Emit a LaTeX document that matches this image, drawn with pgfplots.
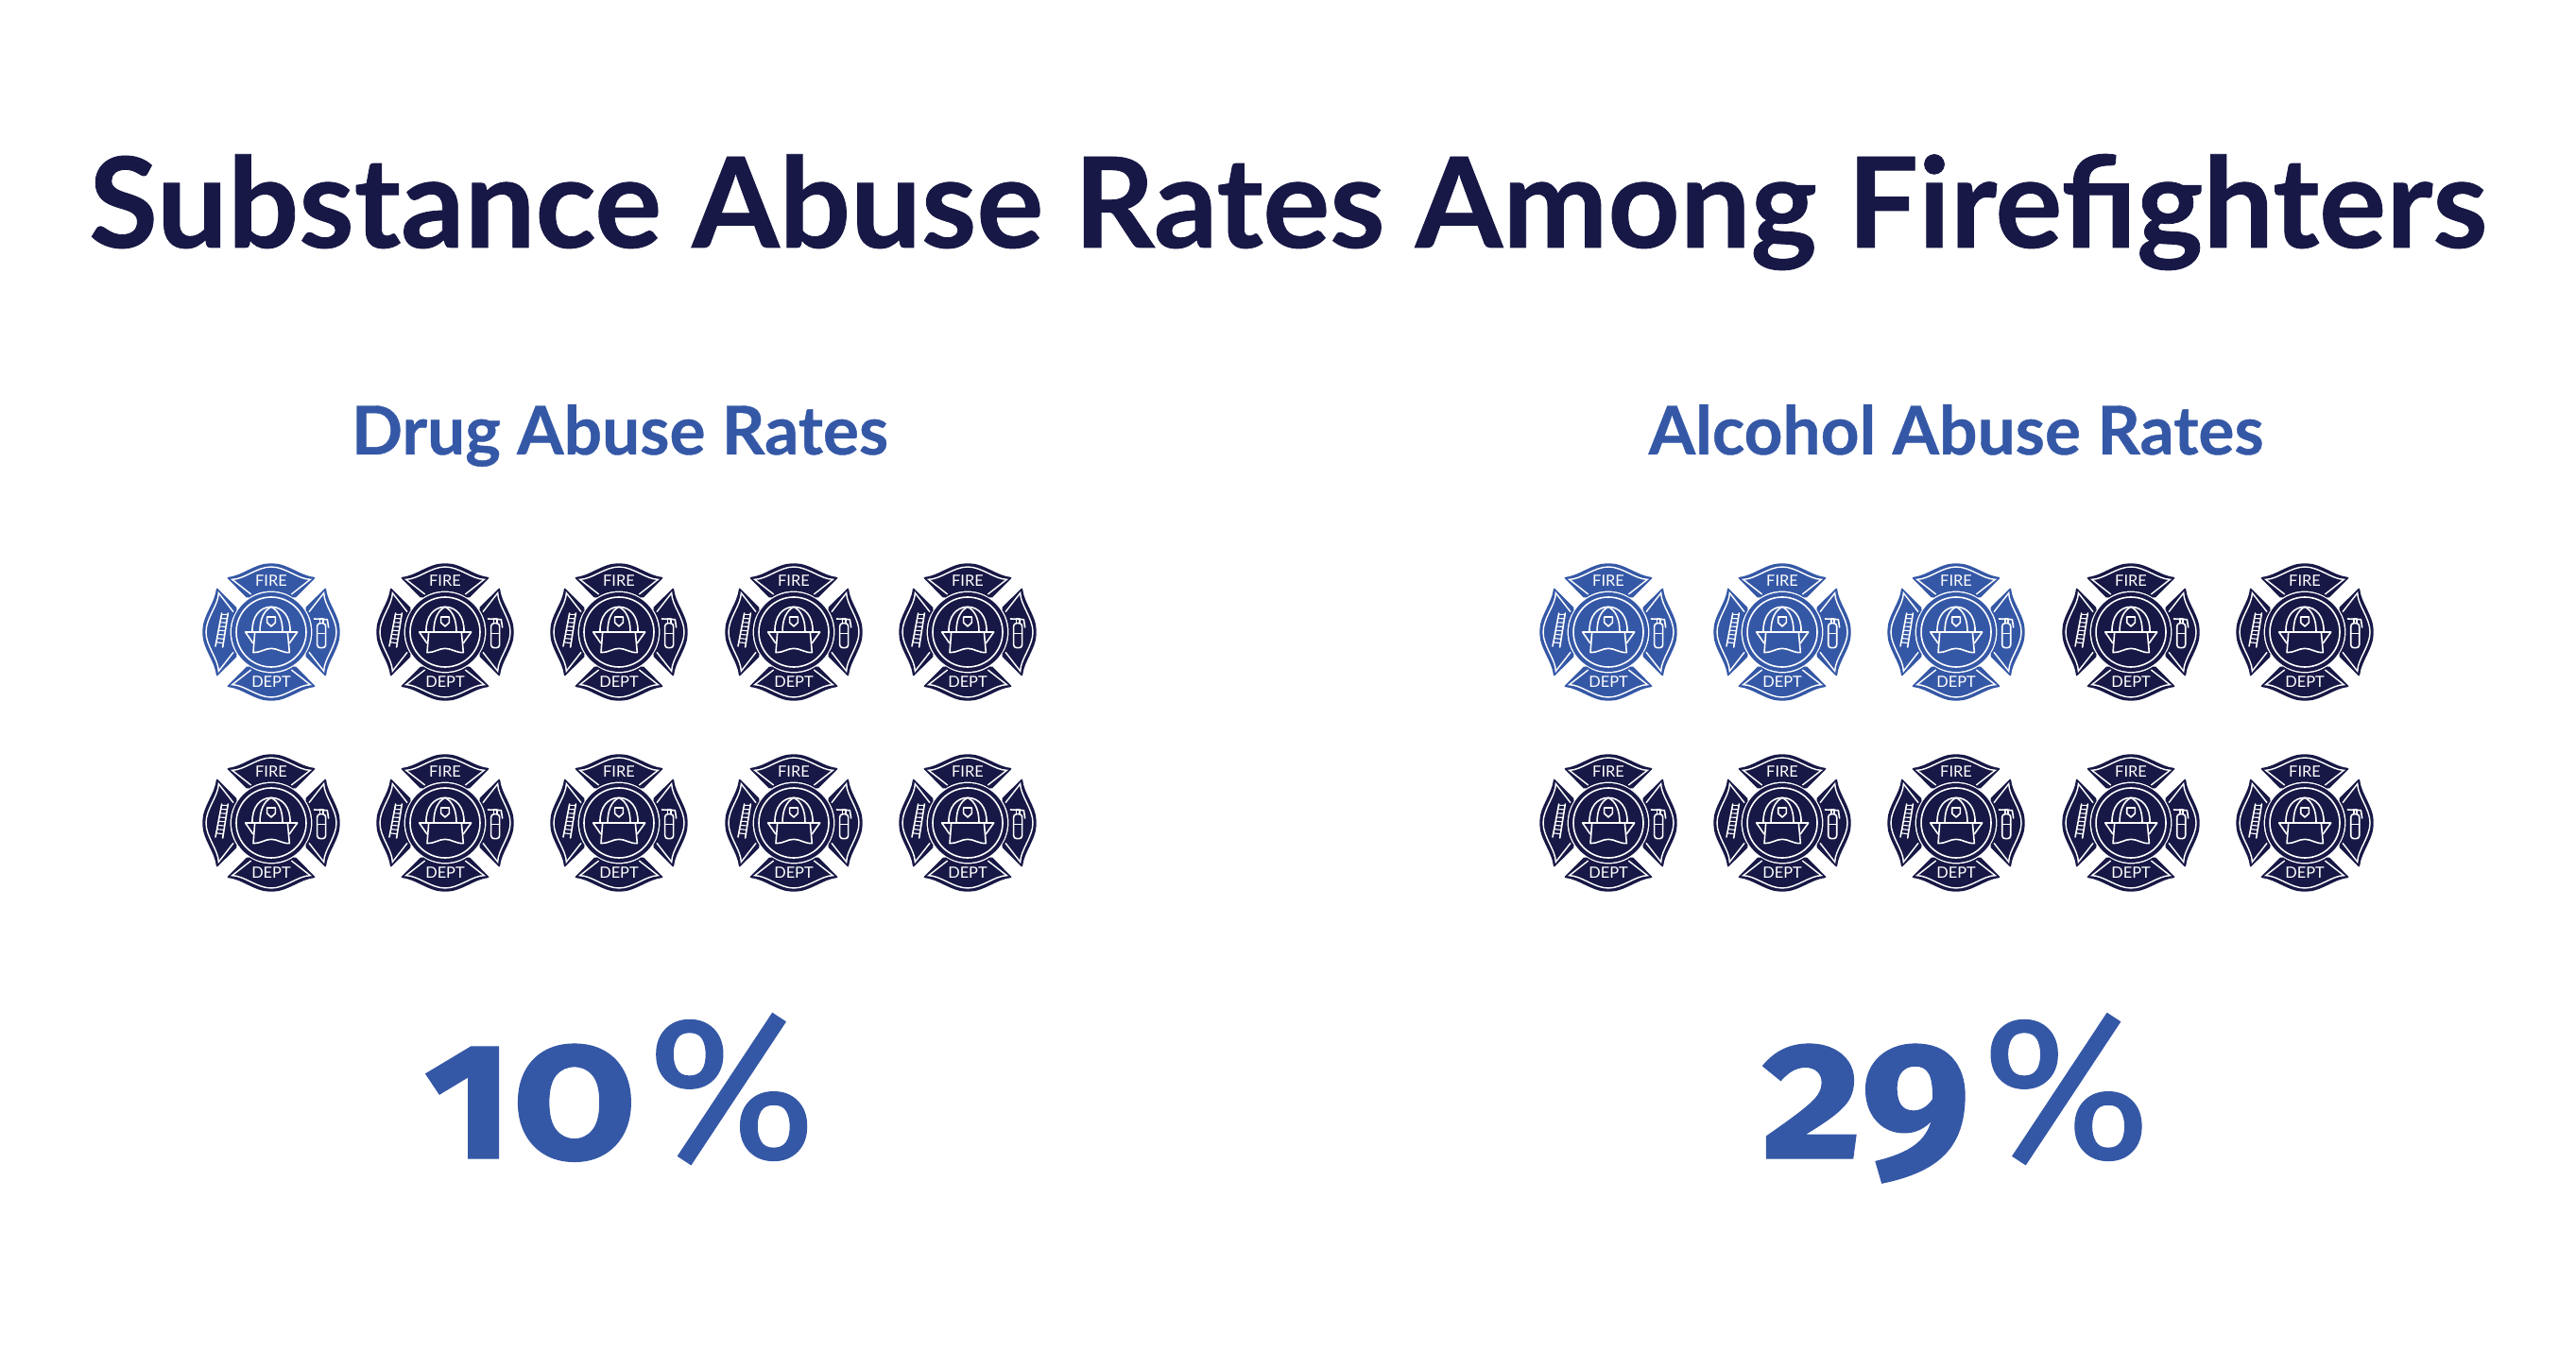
\documentclass[border=0pt]{standalone}
\usepackage{fontspec}
\usepackage{pgfplots}
\usepackage{pgfplotstable}
\pgfplotsset{compat=1.18}
\setmainfont{Lato}[BoldFeatures={FakeBold=0.6}]
\newfontfamily\numfont[Numbers=OldStyle,BoldFeatures={FakeBold=0.5}]{Fira Sans}
\newfontfamily\pctfont[FakeBold=0.5]{Fira Sans}
\newfontfamily\badgefont{Lato}
\definecolor{navyc}{HTML}{171845}
\definecolor{bluec}{HTML}{3558A6}
\pgfplotstableread{
x y
287 669
}\drugblue
\pgfplotstableread{
x y
471 669
655 669
840 669
1024 669
287 871
471 871
655 871
840 871
1024 871
}\drugnavy
\pgfplotstableread{
x y
1702 669
1886 669
2070 669
}\alcblue
\pgfplotstableread{
x y
2255 669
2439 669
1702 871
1886 871
2070 871
2255 871
2439 871
}\alcnavy
\newcommand\armpath{(-142,174) .. controls (-95,178) and (-50,218) .. (0,218) .. controls (50,218) and (95,178) .. (142,174) -- (74,106) arc[start angle=55,end angle=125,radius=130] -- cycle}
\newcommand\arminner{(-64,120) -- (-124,167) .. controls (-85,168) and (-45,207) .. (0,207) .. controls (45,207) and (85,168) .. (124,167) -- (64,120)}
\newcommand\badge[1]{%
\begin{tikzpicture}[x=0.08333pt,y=0.08333pt]
 \useasboundingbox (-220,-220) rectangle (220,220);
 \foreach \a in {0,90,180,270}{%
  \fill[#1,rounded corners=0.5pt,rotate=\a] \armpath;
  \draw[white,line width=0.36pt,rotate=\a] \arminner;
 }
 \fill[#1] (0,0) circle[radius=126];
 \draw[white,line width=0.4pt] (0,0) circle[radius=111];
 \begin{scope}[white,line width=0.4pt,line join=round,line cap=round]
  % helmet
  \draw (-82,0) -- (83,0) -- (58,-35);
  \draw (-82,0) -- (-58,-35);
  \draw (-52,0) -- (-57,-65) .. controls (-35,-66) and (-20,-52) .. (0,-52) .. controls (20,-52) and (35,-66) .. (58,-65) -- (52,0);
  \draw (-60,0) .. controls (-62,50) and (-35,80) .. (0,80) .. controls (35,80) and (62,50) .. (60,0);
  \draw (-36,0) .. controls (-36,40) and (-24,68) .. (0,80) .. controls (24,68) and (36,40) .. (36,0);
  \draw (-13,48) -- (13,48) -- (13,30) -- (0,18) -- (-13,30) -- cycle;
  % ladder
  \draw (-157,60) -- (-177,-45);
  \draw (-137,60) -- (-154,-48);
  \foreach \t in {0.04,0.16,...,1.0}{%
   \draw[line width=0.28pt] ({-157-20*\t},{60-105*\t}) -- ({-137-17*\t},{60-108*\t});
  }
  % extinguisher
  \draw[rounded corners=0.8pt] (146,-50) rectangle (173,28);
  \draw (146,-5) -- (173,-5);
  \draw (155,28) -- (155,42) -- (165,42) -- (165,28);
  \draw (136,42) -- (178,40) -- (182,15);
 \end{scope}
 \node[white,inner sep=0pt,anchor=base] at (0,144) {\badgefont\fontsize{4.1}{5}\selectfont FIRE};
 \node[white,inner sep=0pt,anchor=base] at (0,-176) {\badgefont\fontsize{4.1}{5}\selectfont DEPT};
\end{tikzpicture}}
\pgfplotsset{badgemark/.style={only marks,mark=text,text mark={\badge{#1}},text mark style={inner sep=0pt,outer sep=0pt,draw=none,rectangle}}}
\newcommand\pct[1]{{\numfont\fontsize{52}{60}\selectfont\bfseries #1\hspace{3pt}{\pctfont\mdseries\fontsize{54}{60}\selectfont\%}}}
\begin{document}
\begin{tikzpicture}
\useasboundingbox (0,0) rectangle (681.5pt,357.75pt);
\begin{axis}[
 width=681.5pt,height=357.75pt,scale only axis,hide axis,clip=false,
 anchor=south west,at={(0,0)},
 xmin=0,xmax=2726,ymin=0,ymax=1431,y dir=reverse,
 text mark as node=true,
 ]
\addplot[badgemark=bluec,draw=none] table {\drugblue};
\addplot[badgemark=navyc,draw=none] table {\drugnavy};
\addplot[badgemark=bluec,draw=none] table {\alcblue};
\addplot[badgemark=navyc,draw=none] table {\alcnavy};
\node[anchor=base,text=navyc,inner sep=0pt] at (axis cs:1363,262) {\fontsize{33.2}{40}\selectfont\bfseries Substance Abuse Rates Among Firefighters};
\node[anchor=base,text=bluec,inner sep=0pt] at (axis cs:656,481) {\fontsize{17.8}{22}\selectfont\bfseries Drug Abuse Rates};
\node[anchor=base,text=bluec,inner sep=0pt] at (axis cs:2070,481) {\fontsize{17.8}{22}\selectfont\bfseries Alcohol Abuse Rates};
\node[anchor=base,text=bluec,inner sep=0pt] at (axis cs:656,1226) {\pct{10}};
\node[anchor=base,text=bluec,inner sep=0pt] at (axis cs:2070,1226) {\pct{29}};
\end{axis}
\end{tikzpicture}
\end{document}
